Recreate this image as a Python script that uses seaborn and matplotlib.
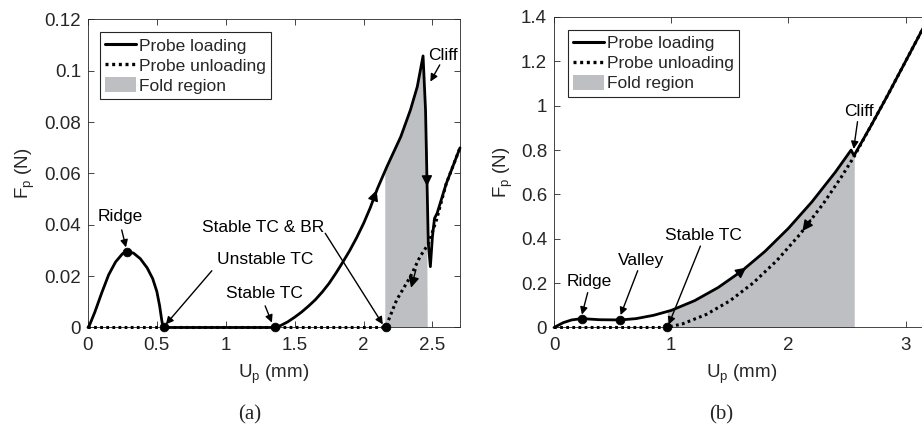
import numpy as np
import matplotlib
matplotlib.use("Agg")
import matplotlib.pyplot as plt
import seaborn as sns
import pandas as pd
from matplotlib.lines import Line2D
from matplotlib.patches import Patch

# ---- panel (a) data ----
a_load_u = [0, 0.012, 0.05, 0.10, 0.15, 0.20, 0.25, 0.28, 0.33, 0.38, 0.43, 0.47, 0.50, 0.52, 0.535, 0.545,
            0.9, 1.359, 1.40, 1.45, 1.50, 1.55, 1.60, 1.65, 1.70, 1.75, 1.80, 1.85, 1.90, 1.95, 2.00,
            2.05, 2.10, 2.17, 2.27, 2.34, 2.39,
            2.432, 2.45, 2.46, 2.47, 2.485, 2.50, 2.515, 2.534, 2.60, 2.70]
a_load_f = [0, 0.001, 0.006, 0.0135, 0.0205, 0.0255, 0.0287, 0.0296, 0.0290, 0.0268, 0.0232, 0.0190, 0.0140,
            0.0085, 0.003, 0,
            0, 0, 0.0008, 0.0022, 0.0040, 0.0060, 0.0083, 0.0108, 0.0138, 0.0172, 0.0212, 0.0255, 0.0300,
            0.0350, 0.0405, 0.0468, 0.0540, 0.0627, 0.0743, 0.0847, 0.0938,
            0.1058, 0.0847, 0.0587, 0.0328, 0.0237, 0.0354, 0.0425, 0.0445, 0.056, 0.070]
a_unload_u = [0, 0.5, 1.0, 1.5, 2.0, 2.16, 2.24, 2.34, 2.41, 2.47, 2.53, 2.60, 2.70]
a_unload_f = [0, 0, 0, 0, 0, 0, 0.0107, 0.0198, 0.0276, 0.0325, 0.042, 0.056, 0.070]
a_fold = [2.158, 2.466]
a_points_u = [0.28, 0.555, 1.359, 2.16]
a_points_f = [0.0296, 0, 0, 0]

# ---- panel (b) data ----
b_load_u = [0, 0.08, 0.15, 0.236, 0.39, 0.566, 0.70, 0.85, 1.0, 1.2, 1.4, 1.6, 1.8, 2.0, 2.2, 2.4, 2.535,
            2.56, 2.70, 2.85, 3.0, 3.14, 3.2]
b_load_f = [0, 0.022, 0.034, 0.040, 0.035, 0.034, 0.040, 0.055, 0.077, 0.121, 0.180, 0.254, 0.343, 0.447,
            0.566, 0.700, 0.80,
            0.775, 0.905, 1.05, 1.20, 1.34, 1.40]
b_unload_u = [0, 0.5, 0.966, 1.1, 1.3, 1.5, 1.7, 1.9, 2.1, 2.3, 2.45, 2.56, 2.70, 2.85, 3.0, 3.14, 3.2]
b_unload_f = [0, 0, 0, 0.017, 0.059, 0.120, 0.201, 0.301, 0.421, 0.560, 0.677, 0.77, 0.905, 1.05, 1.20,
              1.34, 1.40]
b_fold = [0.966, 2.562]
b_points_u = [0.236, 0.566, 0.966]
b_points_f = [0.040, 0.034, 0]

legend_labels = ["Probe loading", "Probe unloading", "Fold region"]

sns.set_style("ticks")
plt.rcParams["font.family"] = ["Liberation Sans", "DejaVu Sans"]
plt.rcParams["mathtext.fontset"] = "custom"
plt.rcParams["mathtext.rm"] = "Liberation Sans"
plt.rcParams["mathtext.it"] = "Liberation Sans"

dark = "#262626"
gray = "#bebfc3"
dots = (0, (0.9, 1.1))

fig = plt.figure(figsize=(9.22, 4.37), dpi=100)
ax_a = fig.add_axes([0.0954, 0.2506, 0.4035, 0.7048])
ax_b = fig.add_axes([0.6009, 0.2506, 0.4067, 0.7105])


def draw_curves(ax, lu, lf, uu, uf, pu, pf):
    sns.lineplot(x=uu, y=uf, ax=ax, color="k", lw=2.2, linestyle=dots, sort=False,
                 estimator=None, zorder=3, clip_on=False)
    sns.lineplot(x=lu, y=lf, ax=ax, color="k", lw=2.0, sort=False, estimator=None, zorder=4,
                 clip_on=False)
    sns.scatterplot(x=pu, y=pf, ax=ax, color="k", s=40, edgecolor="k", zorder=6, clip_on=False)


def curve_arrow(ax, p0, p1):
    ax.annotate("", xy=p1, xytext=p0,
                arrowprops=dict(arrowstyle="-|>", color="k", lw=1, mutation_scale=16,
                                shrinkA=0, shrinkB=0), zorder=7)


def label_arrow(ax, text, text_xy, start, end):
    ax.text(text_xy[0], text_xy[1], text, ha="center", va="center", fontsize=12.5, color="k", zorder=8)
    ax.annotate("", xy=end, xytext=start,
                arrowprops=dict(arrowstyle="-|>", color="k", lw=1.0, mutation_scale=11,
                                shrinkA=0, shrinkB=0), zorder=8)


def style_axes(ax, xlim, ylim, xticks, yticks, ylabel_x):
    ax.set_xlim(*xlim)
    ax.set_ylim(*ylim)
    ax.set_xticks(xticks)
    ax.set_yticks(yticks)
    ax.set_xticklabels([("%g" % t) for t in xticks])
    ax.set_yticklabels([("%g" % t) for t in yticks])
    ax.tick_params(direction="in", length=4, width=0.6, top=True, right=True,
                   labelsize=13.5, colors=dark, pad=5)
    ax.tick_params(axis="x", pad=7)
    for s in ax.spines.values():
        s.set_color(dark)
        s.set_linewidth(0.6)
    ax.set_xlabel(r"U$_\mathregular{p}$ (mm)", fontsize=13.5, color=dark, labelpad=6)
    ax.set_ylabel(r"F$_\mathregular{p}$ (N)", fontsize=13.5, color=dark)
    ax.yaxis.set_label_coords(ylabel_x, 0.5)
    handles = [Line2D([], [], color="k", lw=2.2),
               Line2D([], [], color="k", lw=2.4, linestyle=dots),
               Patch(facecolor=gray, edgecolor="none")]
    return handles


def add_legend(ax, handles, anchor):
    leg = ax.legend(handles, legend_labels, loc="upper left", bbox_to_anchor=anchor, borderaxespad=0,
                    fontsize=12.5, frameon=True, fancybox=False, edgecolor=dark, framealpha=1,
                    handlelength=1.8, handletextpad=0.15, labelspacing=0.22, borderpad=0.3,
                    handleheight=0.9)
    leg.get_frame().set_linewidth(0.8)


# ---- panel (a) ----
la_u = np.array(a_load_u)
la_f = np.array(a_load_f)
peak = int(np.argmax(la_f))
sel = (la_u > a_fold[0]) & (la_u < a_fold[1]) & (np.arange(len(la_u)) <= peak + 2)
start_f = np.interp(a_fold[0], la_u[:peak + 1], la_f[:peak + 1])
poly = [(a_fold[0], 0), (a_fold[0], start_f)] + list(zip(la_u[sel], la_f[sel])) + [(a_fold[1], 0)]
ax_a.fill([p[0] for p in poly], [p[1] for p in poly], color=gray, lw=0, zorder=1)
draw_curves(ax_a, a_load_u, a_load_f, a_unload_u, a_unload_f, a_points_u, a_points_f)
curve_arrow(ax_a, (2.05, 0.0468), (2.095, 0.0535))
curve_arrow(ax_a, (2.455, 0.075), (2.461, 0.055))
curve_arrow(ax_a, (2.38, 0.0225), (2.345, 0.0155))
label_arrow(ax_a, "Ridge", (0.237, 0.0432), (0.245, 0.038), (0.276, 0.0312))
label_arrow(ax_a, "Unstable TC", (1.286, 0.0263), (0.899, 0.0221), (0.565, 0.0012))
label_arrow(ax_a, "Stable TC", (1.281, 0.0133), (1.286, 0.0084), (1.335, 0.0019))
label_arrow(ax_a, "Stable TC & BR", (1.27, 0.039), (1.722, 0.0367), (2.14, 0.0012))
label_arrow(ax_a, "Cliff", (2.575, 0.106), (2.553, 0.1023), (2.485, 0.0958))
h = style_axes(ax_a, (0, 2.7), (0, 0.12), [0, 0.5, 1, 1.5, 2, 2.5],
               [0, 0.02, 0.04, 0.06, 0.08, 0.1, 0.12], -0.137)
add_legend(ax_a, h, (0.032, 0.959))

# ---- panel (b) ----
lb_u = np.array(b_load_u)
lb_f = np.array(b_load_f)
m = (lb_u > b_fold[0]) & (lb_u < b_fold[1])
fx = np.concatenate([[b_fold[0]], lb_u[m], [b_fold[1]]])
fy = np.concatenate([[np.interp(b_fold[0], lb_u, lb_f)], lb_f[m], [np.interp(b_fold[1], lb_u, lb_f)]])
ax_b.fill_between(fx, 0, fy, color=gray, lw=0, zorder=1)
draw_curves(ax_b, b_load_u, b_load_f, b_unload_u, b_unload_f, b_points_u, b_points_f)
curve_arrow(ax_b, (1.56, 0.238), (1.64, 0.27))
curve_arrow(ax_b, (2.19, 0.485), (2.12, 0.435))
label_arrow(ax_b, "Ridge", (0.30, 0.206), (0.287, 0.157), (0.238, 0.058))
label_arrow(ax_b, "Valley", (0.742, 0.304), (0.714, 0.256), (0.568, 0.056))
label_arrow(ax_b, "Stable TC", (1.277, 0.417), (1.249, 0.367), (0.978, 0.013))
label_arrow(ax_b, "Cliff", (2.605, 0.973), (2.59, 0.928), (2.557, 0.805))
h = style_axes(ax_b, (0, 3.2), (0, 1.4), [0, 1, 2, 3],
               [0, 0.2, 0.4, 0.6, 0.8, 1, 1.2, 1.4], -0.104)
add_legend(ax_b, h, (0.0365, 0.958))

fig.text(250 / 922, 1 - 415 / 437, "(a)", ha="center", va="center", fontsize=15,
         family=["Liberation Serif", "DejaVu Serif"])
fig.text(721 / 922, 1 - 415 / 437, "(b)", ha="center", va="center", fontsize=15,
         family=["Liberation Serif", "DejaVu Serif"])

fig.savefig("out.png", dpi=100)
